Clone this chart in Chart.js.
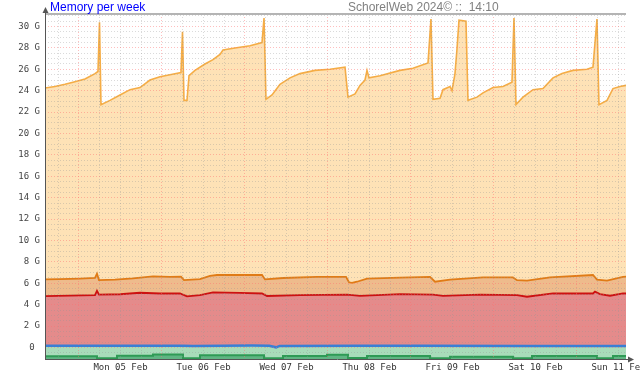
<!DOCTYPE html>
<html><head><meta charset="utf-8">
<script src="https://cdn.jsdelivr.net/npm/chart.js@4.4.1/dist/chart.umd.min.js"></script>
<style>html,body{margin:0;padding:0;background:#fff}#wrap{width:640px;height:380px;position:relative}</style>
</head><body><div id="wrap"><canvas id="c" width="640" height="380"></canvas></div>
<script>
// Hours relative to Mon 05 Feb 00:00 (window: Sun 04 14:10 -> Sun 11 14:10)
const xMin = -9.83, xMax = 158.17;
const dayLabels = ['Mon 05 Feb','Tue 06 Feb','Wed 07 Feb','Thu 08 Feb','Fri 09 Feb','Sat 10 Feb','Sun 11 Feb'];
const titleText = 'Memory per week';
const stampText = 'SchorelWeb 2024\u00a9 ::  14:10';

// Top (light orange) series, GB
const topHours = [-9.83,-6.94,-4.05,-1.73,1.73,4.63,5.49,5.93,6.36,8.96,11.86,14.75,17.64,20.53,23.42,26.31,29.49,29.93,30.36,31.23,31.81,33.54,36.43,38.75,40.77,41.64,45.1,49.45,52.92,53.5,54.07,55.81,58.12,61.01,63.9,68.24,72.58,76.92,77.78,79.81,81.25,82.7,83.28,83.86,87.04,92.82,96.58,100.92,101.78,102.36,104.39,105.25,107.28,107.86,108.72,109.3,109.88,111.9,112.48,115.08,116.82,119.71,122.6,125.2,125.78,126.36,128.39,131.28,134.17,137.06,139.66,142.84,146.89,148.62,149.78,150.36,152.68,154.41,156.44,158.17];
const topValues = [24.25,24.4,24.6,24.8,25.1,25.6,25.8,30.4,22.7,23.1,23.6,24.1,24.3,25.0,25.3,25.5,25.7,29.5,23.1,23.1,25.4,25.9,26.5,26.9,27.4,27.8,28.0,28.2,28.5,30.8,23.2,23.6,24.6,25.2,25.6,25.9,26.0,26.2,23.4,23.7,24.5,25.0,25.9,25.2,25.4,25.9,26.1,26.6,30.7,23.2,23.3,24.1,24.4,24.0,25.6,27.9,30.6,30.5,23.1,23.4,23.8,24.3,24.4,24.8,30.8,22.7,23.4,24.1,24.2,25.2,25.6,25.9,26.0,26.2,30.7,22.7,23.1,24.2,24.4,24.5];

// Orange series, GB
const orangeHours = [-9.83,-5.49,0.29,4.63,5.2,5.78,10.41,15.61,21.4,26.31,29.49,30.36,34.99,37.88,39.9,52.92,53.79,58.99,68.82,77.21,78.07,78.94,80.39,83.28,92.82,101.5,102.94,107.28,116.82,125.49,126.65,129.54,136.19,148.62,149.78,152.68,157.3,158.17];
const orangeValues = [6.37,6.4,6.45,6.5,6.9,6.3,6.35,6.47,6.65,6.6,6.62,6.3,6.4,6.7,6.78,6.78,6.37,6.5,6.6,6.6,6.1,6.05,6.15,6.45,6.53,6.6,6.15,6.35,6.55,6.55,6.3,6.25,6.55,6.78,6.35,6.25,6.6,6.62];

// Red series, GB
const redHours = [-9.83,-2.6,4.63,5.2,5.78,11.86,17.64,23.42,29.2,31.23,34.99,38.75,46.56,52.92,54.36,63.9,77.5,81.25,92.82,102.36,105.25,115.95,126.65,129.54,137.06,148.62,149.2,150.65,153.54,157.3,158.17];
const redValues = [4.81,4.85,4.9,5.3,4.95,4.98,5.12,5.05,5.06,4.78,4.9,5.15,5.1,5.05,4.82,4.9,4.95,4.82,5.0,4.95,4.82,4.95,4.9,4.75,5.06,5.05,5.22,5.0,4.84,5.06,5.05];

// Blue series, GB
const blueHours = [-9.83,20,30,33,50,55,57,58,80,100,130,158.17];
const blueValues = [0.16,0.16,0.16,0.14,0.18,0.16,0.02,0.15,0.16,0.16,0.15,0.15];

// Green series (step, value holds until next time), GB
const greenHours = [-9.83,5.2,10.99,21.4,30.07,34.99,53.5,58.99,71.71,77.78,83.28,101.5,107.28,125.49,130.99,149.78,154.41,158.17];
const greenValues = [-0.82,-1.0,-0.76,-0.66,-1.0,-0.72,-1.0,-0.8,-0.68,-0.98,-0.8,-1.0,-0.86,-1.0,-0.8,-1.0,-0.8,-0.8];

const xTickValues = []; for (let h = -6; h <= 156; h += 6) xTickValues.push(h);
const yTickValues = []; for (let v = -0.5; v <= 31; v += 0.5) yTickValues.push(v);

const pts = (hs, vs) => hs.map((h, i) => ({x: h, y: vs[i]}));

const decor = {
  id: 'decor',
  afterDraw(chart) {
    const ctx = chart.ctx, a = chart.chartArea;
    ctx.save();
    ctx.strokeStyle = '#b4b4b4'; ctx.lineWidth = 2;
    ctx.beginPath(); ctx.moveTo(a.left, a.top); ctx.lineTo(a.right, a.top); ctx.stroke();
    ctx.strokeStyle = '#555'; ctx.fillStyle = '#555'; ctx.lineWidth = 1;
    ctx.beginPath(); ctx.moveTo(a.left + 0.5, a.bottom); ctx.lineTo(a.left + 0.5, 11); ctx.stroke();
    ctx.beginPath(); ctx.moveTo(a.left, a.bottom + 0.5); ctx.lineTo(630, a.bottom + 0.5); ctx.stroke();
    ctx.beginPath(); ctx.moveTo(a.left + 0.5, 7); ctx.lineTo(a.left - 2.5, 13); ctx.lineTo(a.left + 3.5, 13); ctx.closePath(); ctx.fill();
    ctx.beginPath(); ctx.moveTo(634, a.bottom + 0.5); ctx.lineTo(628, a.bottom - 2.5); ctx.lineTo(628, a.bottom + 3.5); ctx.closePath(); ctx.fill();
    ctx.textBaseline = 'alphabetic'; ctx.textAlign = 'left';
    ctx.font = '12px "Liberation Sans", Arial, sans-serif';
    ctx.fillStyle = '#0000ff';
    ctx.fillText(titleText, 50, 11);
    ctx.font = '12px "Liberation Sans", Arial, sans-serif';
    ctx.fillStyle = '#808080';
    ctx.fillText(stampText, 348, 10.5);
    ctx.restore();
  }
};

new Chart(document.getElementById('c'), {
  type: 'line',
  data: {
    datasets: [
      {data: pts(greenHours, greenValues), borderColor: '#2e9a55', borderWidth: 2, backgroundColor: '#5fb583', fill: 'start', stepped: true},
      {data: pts(blueHours, blueValues), borderColor: '#3a7fd5', borderWidth: 2.5, backgroundColor: '#a8dcba', fill: 'start'},
      {data: pts(redHours, redValues), borderColor: '#cc1111', borderWidth: 1.8, backgroundColor: '#e48b8b', fill: 'start'},
      {data: pts(orangeHours, orangeValues), borderColor: '#e07b16', borderWidth: 1.8, backgroundColor: '#eebb8c', fill: 'start'},
      {data: pts(topHours, topValues), borderColor: '#f5ad46', borderWidth: 1.6, backgroundColor: '#fee2b6', fill: 'start'}
    ]
  },
  options: {
    responsive: false,
    animation: false,
    layout: {padding: {top: 14, right: 14, left: 0, bottom: 0}},
    elements: {point: {radius: 0}, line: {tension: 0}},
    plugins: {legend: {display: false}, tooltip: {enabled: false}, title: {display: false}},
    scales: {
      x: {
        type: 'linear', min: xMin, max: xMax,
        afterBuildTicks: s => { s.ticks = xTickValues.map(v => ({value: v})); },
        afterFit: s => { s.height = 21; s.paddingLeft = 0; s.paddingRight = 0; },
        grid: {z: 1, drawTicks: false,
          color: c => (c.tick && c.tick.value % 24 === 0) ? 'rgba(255,110,110,0.45)' : 'rgba(150,150,150,0.35)',
          lineWidth: 1},
        border: {display: false, dash: [1, 2]},
        ticks: {autoSkip: false, maxRotation: 0, padding: 3, color: '#333',
          font: {family: '"DejaVu Sans Mono", monospace', size: 9},
          callback: v => (((v % 24) + 24) % 24 === 12) ? dayLabels[(v - 12) / 24] : ''}
      },
      y: {
        type: 'linear', min: -1.07, max: 31.17,
        afterBuildTicks: s => { s.ticks = yTickValues.map(v => ({value: v})); },
        afterFit: s => { s.width = 45; s.paddingTop = 0; s.paddingBottom = 0; },
        grid: {z: 1, drawTicks: false,
          color: c => (c.tick && c.tick.value >= 0 && c.tick.value % 2 === 0) ? 'rgba(255,110,110,0.45)' : 'rgba(150,150,150,0.35)',
          lineWidth: 1},
        border: {display: false, dash: [1, 2]},
        ticks: {autoSkip: false, padding: 5, color: '#444',
          font: {family: '"DejaVu Sans Mono", monospace', size: 9},
          callback: v => (v >= 0 && v % 2 === 0) ? (v === 0 ? '0 ' : v + ' G') : ''}
      }
    }
  },
  plugins: [decor]
});
</script>
</body></html>
